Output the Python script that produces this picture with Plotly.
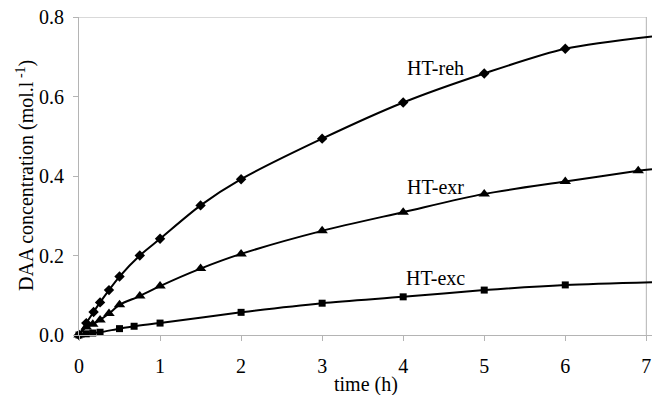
import plotly.graph_objects as go

# ---- data ----
reh_t = [0, 0.09, 0.18, 0.26, 0.37, 0.5, 0.75, 1, 1.5, 2, 3, 4, 5, 6]
reh_c = [0, 0.030, 0.058, 0.082, 0.113, 0.147, 0.200, 0.242, 0.326, 0.392, 0.494, 0.585, 0.658, 0.720]

exr_t = [0, 0.09, 0.17, 0.26, 0.37, 0.5, 0.75, 1, 1.5, 2, 3, 4, 5, 6, 6.9]
exr_c = [0, 0.020, 0.027, 0.038, 0.054, 0.076, 0.098, 0.123, 0.167, 0.204, 0.262, 0.309, 0.355, 0.386, 0.413]

exc_t = [0, 0.09, 0.17, 0.26, 0.5, 0.68, 1, 2, 3, 4, 5, 6]
exc_c = [0, 0.003, 0.005, 0.007, 0.016, 0.022, 0.030, 0.057, 0.080, 0.096, 0.113, 0.126]

# curve continuation beyond the last measured point (to the chart edge)
end_t = 7.07
reh_end = 0.751
exr_end = 0.417
exc_end = 0.133

x_ticks = [0, 1, 2, 3, 4, 5, 6, 7]
y_ticks = [0.0, 0.2, 0.4, 0.6, 0.8]
y_tick_labels = ["0.0", "0.2", "0.4", "0.6", "0.8"]

series = [
    ("HT-reh", reh_t, reh_c, reh_end, "diamond", 8),
    ("HT-exr", exr_t, exr_c, exr_end, "triangle-up", 10),
    ("HT-exc", exc_t, exc_c, exc_end, "square", 7),
]
label_pos = {"HT-reh": (4.40, 0.672), "HT-exr": (4.40, 0.373), "HT-exc": (4.40, 0.143)}

FONT = "Liberation Serif, Times New Roman, serif"
GRAY = "#b4b4b4"

fig = go.Figure()
for name, t, c, cend, sym, sz in series:
    fig.add_trace(go.Scatter(
        x=t + [end_t], y=c + [cend], mode="lines",
        line=dict(color="black", width=2, shape="spline", smoothing=0.8),
        showlegend=False, hoverinfo="skip"))
    fig.add_trace(go.Scatter(
        x=t, y=c, mode="markers", name=name,
        marker=dict(symbol=sym, size=sz, color="black"),
        cliponaxis=False, showlegend=False))

for name, (ax, ay) in label_pos.items():
    fig.add_annotation(x=ax, y=ay, text=name, showarrow=False,
                       font=dict(family=FONT, size=20, color="black"))

# axis titles
fig.add_annotation(text="time (h)", xref="paper", yref="paper", x=0.5, y=0,
                   xanchor="center", yanchor="middle", yshift=-49, showarrow=False,
                   font=dict(family=FONT, size=20, color="black"))
fig.add_annotation(text="DAA concentration (mol.l<sup> -1</sup>)", xref="paper", yref="paper",
                   x=0, y=0.5, xanchor="center", yanchor="middle", xshift=-54,
                   textangle=-90, showarrow=False,
                   font=dict(family=FONT, size=20, color="black"))

# plot-area frame (top and right edges)
fig.add_shape(type="line", x0=0, x1=7, y0=0.8, y1=0.8, xref="x", yref="y",
              line=dict(color=GRAY, width=1), layer="below")
fig.add_shape(type="line", x0=7, x1=7, y0=0, y1=0.8, xref="x", yref="y",
              line=dict(color=GRAY, width=1), layer="below")

fig.update_layout(
    width=652, height=395,
    margin=dict(l=79, r=0, t=17, b=60),
    paper_bgcolor="white", plot_bgcolor="white",
    font=dict(family=FONT, size=20, color="black"),
    showlegend=False,
)
fig.update_xaxes(
    range=[0, end_t], tickvals=x_ticks, ticktext=[str(v) for v in x_ticks],
    showgrid=False, zeroline=False, showline=True, linecolor=GRAY, linewidth=1,
    ticks="outside", ticklen=5, tickcolor=GRAY, automargin=False,
    ticklabeloverflow="allow", ticklabelstandoff=8,
    tickfont=dict(family=FONT, size=20),
)
fig.update_yaxes(
    range=[0, 0.8], tickvals=y_ticks, ticktext=y_tick_labels,
    showgrid=False, zeroline=False, showline=True, linecolor=GRAY, linewidth=1,
    ticks="outside", ticklen=5, tickcolor=GRAY, automargin=False,
    ticklabeloverflow="allow", ticklabelstandoff=5,
    tickfont=dict(family=FONT, size=20),
)

fig.write_html("out.html", config={"displayModeBar": False},
               post_script="document.body.style.margin='0';document.body.style.overflow='hidden';")
